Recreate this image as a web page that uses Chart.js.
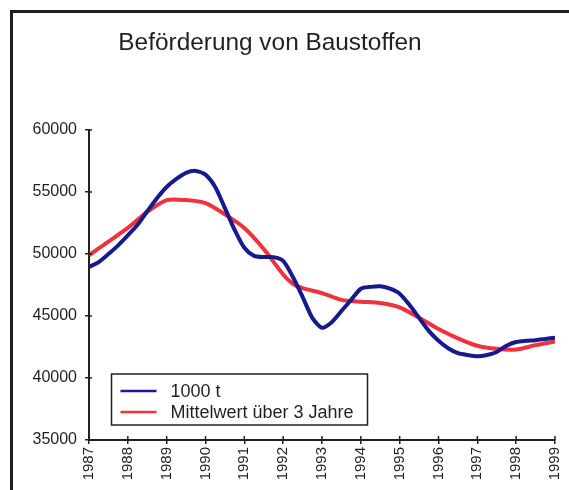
<!DOCTYPE html>
<html><head><meta charset="utf-8">
<script src="https://cdn.jsdelivr.net/npm/chart.js@4"></script>
<style>
html,body{margin:0;padding:0;background:#fff;}
#wrap{position:relative;width:569px;height:490px;overflow:hidden;}
#frame{position:absolute;left:10px;top:10px;width:600px;height:600px;border-left:3px solid #231f20;border-top:3px solid #231f20;box-sizing:border-box;}
canvas{position:absolute;left:0;top:0;}
</style></head>
<body><div id="wrap"><div id="frame"></div><canvas id="c" width="569" height="490"></canvas></div>
<script>
const titleText = "Beförderung von Baustoffen";
const seriesNames = ["1000 t", "Mittelwert über 3 Jahre"];
const xTickYears = [1987,1988,1989,1990,1991,1992,1993,1994,1995,1996,1997,1998,1999];
const yTicks = [35000,40000,45000,50000,55000,60000];

const blueYears = [1987,1987.25,1987.5,1987.75,1988,1988.25,1988.5,1988.75,1989,1989.25,1989.5,1989.75,
  1990,1990.25,1990.5,1990.75,1991,1991.25,1991.5,1991.75,1992,1992.25,1992.5,1992.75,
  1993,1993.25,1993.5,1993.75,1994,1994.25,1994.5,1994.75,1995,1995.25,1995.5,1995.75,
  1996,1996.25,1996.5,1996.75,1997,1997.25,1997.5,1997.75,1998,1998.25,1998.5,1998.75,1999];
const blueValues = [48950,49350,50000,50700,51500,52350,53450,54500,55400,56050,56550,56700,
  56400,55400,53700,51950,50500,49850,49750,49750,49450,48150,46550,44850,
  44050,44500,45400,46300,47200,47350,47400,47200,46800,45900,44850,43800,
  43000,42400,42000,41850,41750,41850,42100,42600,42900,43000,43050,43150,43250];

const redYears = [1987,1987.5,1988,1988.5,1989,1989.5,1990,1990.5,1991,1991.5,1992,1992.25,1992.5,
  1993,1993.5,1994,1994.5,1995,1995.5,1996,1996.5,1997,1997.5,1998,1998.5,1999];
const redValues = [49900,51000,52100,53400,54350,54350,54100,53200,52100,50400,48350,47600,47250,
  46850,46300,46150,46050,45700,44850,43950,43200,42600,42350,42300,42650,42950];

const blueColor = "#161a8c";
const redColor = "#f0323c";
const legendColors = ["#2a0fa0", "#f7303c"];
const ink = "#231f20";
const fontFam = "'Liberation Sans', Arial, sans-serif";

const titleDraw = {
  id: 'titleDraw',
  afterDraw(chart) {
    const ctx = chart.ctx;
    ctx.save();
    ctx.font = "24.4px " + fontFam;
    ctx.fillStyle = ink;
    ctx.textAlign = 'center';
    ctx.textBaseline = 'alphabetic';
    ctx.fillText(titleText, 270, 50);
    ctx.restore();
  }
};

const innerTicks = {
  id: 'innerTicks',
  afterDraw(chart) {
    const ctx = chart.ctx, ca = chart.chartArea;
    const xs = chart.scales.x, ys = chart.scales.y;
    ctx.save();
    ctx.strokeStyle = ink; ctx.lineWidth = 1.5;
    xTickYears.forEach(v => {
      const px = xs.getPixelForValue(v);
      ctx.beginPath(); ctx.moveTo(px, ca.bottom); ctx.lineTo(px, ca.bottom - 4); ctx.stroke();
    });
    yTicks.forEach(v => {
      const py = ys.getPixelForValue(v);
      ctx.beginPath(); ctx.moveTo(ca.left, py); ctx.lineTo(ca.left + 3, py); ctx.stroke();
    });
    ctx.restore();
  }
};

const boxLegend = {
  id: 'boxLegend',
  afterDraw(chart) {
    const ctx = chart.ctx, ca = chart.chartArea;
    const bx = ca.left + 22.5, by = ca.bottom - 66, bw = 256, bh = 51;
    ctx.save();
    ctx.fillStyle = '#fff';
    ctx.fillRect(bx, by, bw, bh);
    ctx.strokeStyle = ink; ctx.lineWidth = 1.5;
    ctx.strokeRect(bx, by, bw, bh);
    ctx.font = "18px " + fontFam;
    ctx.textBaseline = 'alphabetic';
    chart.data.datasets.forEach((ds, i) => {
      const ly = by + 17 + i * 21;
      ctx.strokeStyle = legendColors[i]; ctx.lineWidth = 2.5;
      ctx.beginPath(); ctx.moveTo(bx + 9, ly); ctx.lineTo(bx + 45, ly); ctx.stroke();
      ctx.fillStyle = ink;
      ctx.fillText(ds.label, bx + 59, ly + 6);
    });
    ctx.restore();
  }
};

new Chart(document.getElementById('c'), {
  type: 'line',
  data: {
    datasets: [
      { label: seriesNames[0], data: blueYears.map((x, i) => ({x, y: blueValues[i]})),
        borderColor: blueColor, borderWidth: 4, pointRadius: 0, tension: 0.25, fill: false },
      { label: seriesNames[1], data: redYears.map((x, i) => ({x, y: redValues[i]})),
        borderColor: redColor, borderWidth: 4, pointRadius: 0, tension: 0.25, fill: false }
    ]
  },
  options: {
    responsive: false,
    animation: false,
    layout: { padding: { left: 0, right: 14, top: 130, bottom: 0 } },
    plugins: {
      legend: { display: false },
      tooltip: { enabled: false },
      title: { display: false }
    },
    scales: {
      x: {
        type: 'linear', min: 1987, max: 1999,
        afterFit(s) { s.height = 50; s.paddingLeft = 0; s.paddingRight = 0; },
        afterBuildTicks(s) { s.ticks = xTickYears.map(v => ({ value: v })); },
        ticks: { color: ink, font: { family: fontFam, size: 15 }, minRotation: 90, maxRotation: 90,
          padding: 3, autoSkip: false, callback: v => String(v) },
        grid: { drawOnChartArea: false, drawTicks: true, tickLength: 4, color: ink, lineWidth: 1.5 },
        border: { display: true, color: ink, width: 2 }
      },
      y: {
        min: 35000, max: 60000,
        afterFit(s) { s.width = 89; },
        afterBuildTicks(s) { s.ticks = yTicks.map(v => ({ value: v })); },
        ticks: { color: ink, font: { family: fontFam, size: 16 }, padding: 8, callback: v => String(v) },
        grid: { drawOnChartArea: false, drawTicks: true, tickLength: 4, color: ink, lineWidth: 1.5 },
        border: { display: true, color: ink, width: 2 }
      }
    }
  },
  plugins: [innerTicks, boxLegend, titleDraw]
});
</script></body></html>
